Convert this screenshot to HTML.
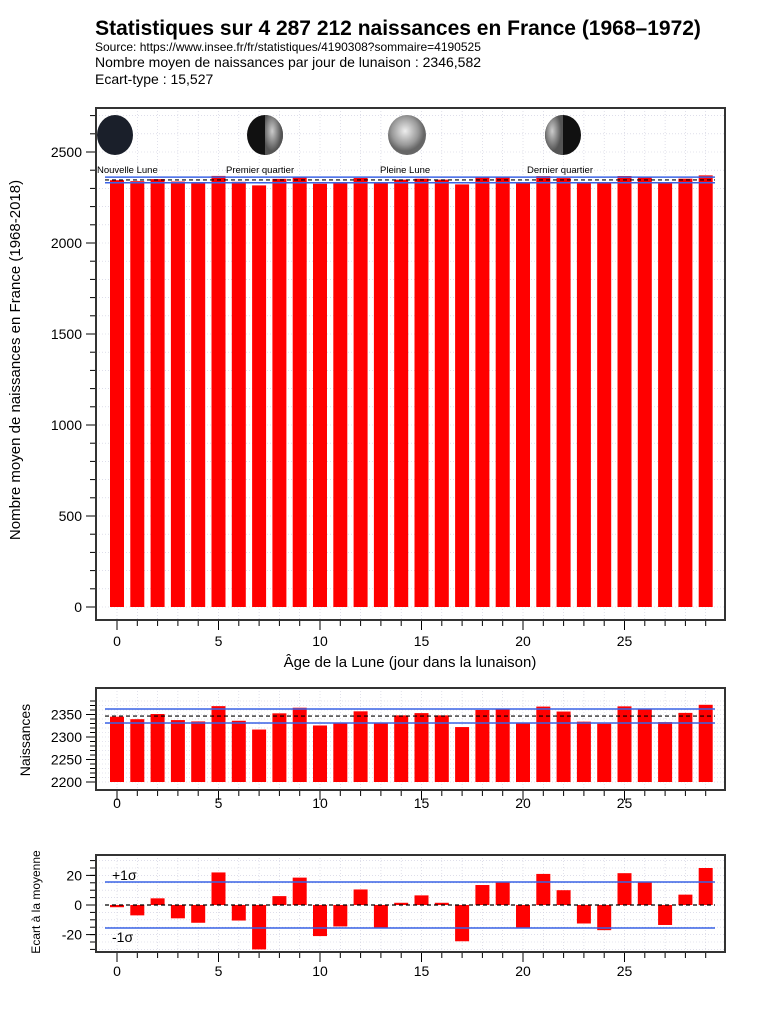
<!DOCTYPE html>
<html><head><meta charset="utf-8"><style>
body{margin:0;background:#fff;width:768px;height:1024px;overflow:hidden;font-family:"Liberation Sans",sans-serif}
</style></head><body>
<svg id="s" width="768" height="1024" xmlns="http://www.w3.org/2000/svg" font-family="Liberation Sans, sans-serif">
<defs>
<radialGradient id="full" cx="45%" cy="40%"><stop offset="0" stop-color="#eee"/><stop offset="0.7" stop-color="#999"/><stop offset="1" stop-color="#666"/></radialGradient>
<radialGradient id="half" cx="40%" cy="40%"><stop offset="0" stop-color="#ccc"/><stop offset="1" stop-color="#555"/></radialGradient>
</defs>
<text x="398" y="35" text-anchor="middle" font-size="21" font-weight="bold">Statistiques sur 4 287 212 naissances en France (1968–1972)</text>
<text x="95" y="51" font-size="12">Source: https://www.insee.fr/fr/statistiques/4190308?sommaire=4190525</text>
<text x="95" y="67" font-size="14">Nombre moyen de naissances par jour de lunaison : 2346,582</text>
<text x="95" y="84" font-size="14">Ecart-type : 15,527</text>
<g id="g"></g>
</svg>
<script>
const days=[0,1,2,3,4,5,6,7,8,9,10,11,12,13,14,15,16,17,18,19,20,21,22,23,24,25,26,27,28,29];
const deviations=[-1.5,-7,4.5,-9,-12,22,-10.5,-30,6,18.5,-21,-14.5,10.5,-15.5,1.5,6.5,1.5,-24.5,13.5,15.5,-15.5,21,10,-12.5,-17,21.5,15.5,-13.5,7,25];
const meanBirths=2346.582;
const stdDev=15.527;
const topTicks=[0,500,1000,1500,2000,2500];
const midTicks=[2200,2250,2300,2350];
const botTicks=[-20,0,20];
const xTicks=[0,5,10,15,20,25];
const phases=[{d:0,label:"Nouvelle Lune",k:"new"},{d:7,label:"Premier quartier",k:"first"},{d:14,label:"Pleine Lune",k:"full"},{d:22,label:"Dernier quartier",k:"last"}];

const NS="http://www.w3.org/2000/svg";
const g=document.getElementById('g');
function mk(t,a,p){const e=document.createElementNS(NS,t);for(const k in a)e.setAttribute(k,a[k]);(p||g).appendChild(e);return e;}
const births=deviations.map(d=>meanBirths+d);
const L=96,R=725;
const X=d=>117+d*20.3;
const bw=14;

function panel(name,top,bot,y,yMin,yMax,minorStep,ticks,labelY){
  const grp=mk('g',{});
  
  
  for(let d=0;d<=29;d++){mk('line',{x1:X(d),x2:X(d),y1:top,y2:bot,stroke:'#ccd',"stroke-width":0.6,"stroke-dasharray":"1,2"},grp);}
  for(let v=yMin;v<=yMax;v+=minorStep){mk('line',{x1:L,x2:R,y1:y(v),y2:y(v),stroke:'#ccd',"stroke-width":0.6,"stroke-dasharray":"1,2"},grp);
    mk('line',{x1:L-6,x2:L,y1:y(v),y2:y(v),stroke:'#000'},grp);}
  ticks.forEach(v=>{mk('line',{x1:L-10,x2:L,y1:y(v),y2:y(v),stroke:'#000'},grp);
    const t=mk('text',{x:L-14,y:y(v)+5,"text-anchor":"end","font-size":14},grp);t.textContent=v;
    });
  for(let d=0;d<=29;d++){mk('line',{x1:X(d),x2:X(d),y1:bot,y2:bot+(d%5?6:10),stroke:'#000'},grp);}
  xTicks.forEach(d=>{const t=mk('text',{x:X(d),y:labelY,"text-anchor":"middle","font-size":14},grp);t.textContent=d;
    });
  return grp;
}
function frame(top,bot,p){const f=mk('rect',{x:L,y:top,width:R-L,height:bot-top,fill:'none',stroke:'#333',"stroke-width":2},p);
  }
function hline(p,y,col,dash,w,name){const l=mk('line',{x1:105,x2:715,y1:y,y2:y,stroke:col,"stroke-width":w||1.5},p);if(dash)l.setAttribute('stroke-dasharray',dash);
  }

// Top chart
const yT=v=>607-v*0.182;
const p1=panel('main-chart',108,620,yT,0,2700,100,topTicks,646);
const moonX={new:115,first:265,full:407,last:563};
const labX={new:97,first:226,full:380,last:527};
phases.forEach(ph=>{
  const cx=moonX[ph.k],cy=135;
  const c=mk('g',{},p1);
  if(ph.k==='new')mk('ellipse',{cx,cy,rx:18,ry:20,fill:'#1a1f2a'},c);
  else if(ph.k==='full')mk('ellipse',{cx,cy,rx:19,ry:20,fill:'url(#full)'},c);
  else{mk('ellipse',{cx,cy,rx:18,ry:20,fill:'#111'},c);
    const s=ph.k==='first'?1:0;
    mk('path',{d:`M${cx},${cy-20} A18,20 0 0 ${s} ${cx},${cy+20} Z`,fill:'url(#half)'},c);}
  const t=mk('text',{x:labX[ph.k],y:173,"font-size":9.5},p1);t.textContent=ph.label;
  
});
days.forEach((d,i)=>{const r=mk('rect',{x:X(d)-bw/2,y:yT(births[i]),width:bw,height:yT(0)-yT(births[i]),fill:'#f00'},p1);
  });
hline(p1,yT(meanBirths+stdDev),'#3a63e6',null,1.5,'plus-sigma-line');
hline(p1,yT(meanBirths-stdDev),'#3a63e6',null,1.5,'minus-sigma-line');
hline(p1,yT(meanBirths),'#000','4,3',1.2,'mean-line');
frame(108,620,p1);
let t=mk('text',{x:410,y:667,"text-anchor":"middle","font-size":15});t.textContent="Âge de la Lune (jour dans la lunaison)";

t=mk('text',{x:0,y:0,"text-anchor":"middle","font-size":15,transform:"translate(20,360) rotate(-90)"});t.textContent="Nombre moyen de naissances en France (1968-2018)";


// Middle chart
const yM=v=>782-(v-2200)*0.45;
const p2=panel('zoomed-chart',688,790,yM,2200,2380,10,midTicks,808);
days.forEach((d,i)=>{const r=mk('rect',{x:X(d)-bw/2,y:yM(births[i]),width:bw,height:yM(2200)-yM(births[i]),fill:'#f00'},p2);
  });
hline(p2,yM(meanBirths+stdDev),'#3a63e6',null,1.5,'plus-sigma-line');
hline(p2,yM(meanBirths-stdDev),'#3a63e6',null,1.5,'minus-sigma-line');
hline(p2,yM(meanBirths),'#000','4,3',1.2,'mean-line');
frame(688,790,p2);
t=mk('text',{x:0,y:0,"text-anchor":"middle","font-size":14,transform:"translate(30,740) rotate(-90)"});t.textContent="Naissances";


// Bottom chart
const yB=v=>905-v*1.48;
const p3=panel('deviation-chart',855,952,yB,-30,30,5,botTicks,976);
days.forEach((d,i)=>{const v=deviations[i];const r=mk('rect',{x:X(d)-bw/2,y:Math.min(yB(v),yB(0)),width:bw,height:Math.abs(yB(v)-yB(0)),fill:'#f00'},p3);
  });
hline(p3,yB(stdDev),'#3a63e6',null,1.5,'plus-sigma-line');
hline(p3,yB(-stdDev),'#3a63e6',null,1.5,'minus-sigma-line');
hline(p3,yB(0),'#000','4,3',1.2,'zero-line');
frame(855,952,p3);
t=mk('text',{x:112,y:880,"font-size":14},p3);t.textContent="+1σ";
t=mk('text',{x:112,y:942,"font-size":14},p3);t.textContent="-1σ";
t=mk('text',{x:0,y:0,"text-anchor":"middle","font-size":12,transform:"translate(40,902) rotate(-90)"});t.textContent="Ecart à la moyenne";

</script>
</body></html>
